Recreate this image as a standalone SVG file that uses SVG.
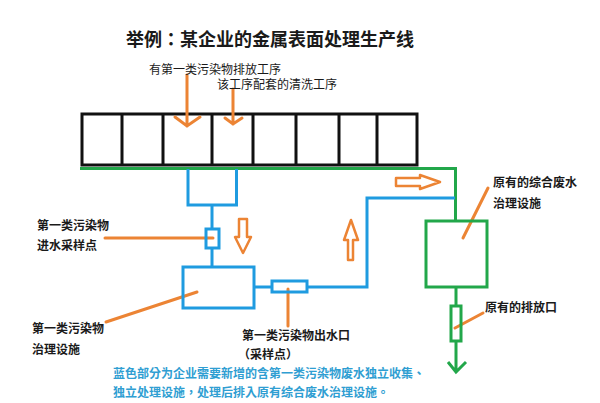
<svg xmlns="http://www.w3.org/2000/svg" width="600" height="403" viewBox="0 0 600 403">
<style>
text{font-family:"Noto Sans CJK SC","Noto Sans",sans-serif;fill:#1a1a1a;font-size:12px}
.title{font-size:18px;font-weight:bold;font-family:"Noto Sans CJK TC","Noto Sans CJK SC",sans-serif}
.b{font-weight:bold}
.blue-t{fill:#2f9ed2;font-weight:bold;font-family:"Noto Sans CJK TC","Noto Sans CJK SC",sans-serif}
.blk{fill:none;stroke:#111;stroke-width:3}
.blu{fill:none;stroke:#1f9be0;stroke-width:3}
.grn{fill:none;stroke:#22a74a;stroke-width:3}
.org{fill:none;stroke:#ec8434;stroke-width:3;stroke-linecap:round}
.hol{fill:#fff;stroke:#ec8434;stroke-width:2.5;stroke-linejoin:round}
</style>
<rect width="600" height="403" fill="#fff"/>
<text class="title" x="126" y="46">举例：某企业的金属表面处理生产线</text>

<g id="production-line">
<rect class="blk" x="82" y="114" width="335" height="51"/>
<path class="blk" d="M122 114V165M163 114V165M212 114V165M253 114V165M296 114V165M339 114V165M377 114V165"/>
</g>

<g id="connectors">
<path class="grn" d="M80 168.5H455.5V221"/>
<path class="blu" d="M188 169V205H236.5V169M212 205V229M212 248V267M254 287H272M307 287H367V198H455"/>
<path class="grn" d="M456 287V306M456 341V372M448 362L456 372L466 362"/>
<path class="org" d="M187 75V126M175 117L187 126L200 117"/>
<path class="org" d="M233 89V124M225 118L233 124L242 118"/>
<path class="org" d="M105 238H213"/>
<path class="org" d="M106 322L197 292"/>
<path class="org" d="M288 289V326"/>
<path class="org" d="M463 238L488 188"/>
<path class="org" d="M455 328L483 313"/>
</g>

<g id="flow-arrows">
<polygon class="hol" points="239,219 247,219 247,237 251,237 243,253 235,237 239,237"/>
<polygon class="hol" points="351,220 358,240 353,240 353,260 348,260 348,240 344,240"/>
<polygon class="hol" points="396,178 420,178 420,175 440,182 420,189 420,186 396,186"/>
</g>

<g id="intake-sample-point">
<rect class="blu" x="206" y="229" width="13" height="19"/>
<text class="b" x="37" y="229.5">第一类污染物</text>
<text class="b" x="37" y="249.5">进水采样点</text>
</g>

<g id="treatment-facility">
<rect class="blu" x="183" y="267" width="71" height="41"/>
<text class="b" x="32" y="332.5">第一类污染物</text>
<text class="b" x="32" y="353.5">治理设施</text>
</g>

<g id="outlet-sample-point">
<rect class="blu" x="272" y="281" width="35" height="11"/>
<text class="b" x="242" y="339.5">第一类污染物出水口</text>
<text class="b" x="238" y="358.5">（采样点）</text>
</g>

<g id="original-treatment">
<rect class="grn" x="426" y="221" width="61" height="66"/>
<text class="b" x="493" y="186.5">原有的综合废水</text>
<text class="b" x="493" y="207.5">治理设施</text>
</g>

<g id="original-outlet">
<rect class="grn" x="451" y="306" width="10" height="35"/>
<text class="b" x="485" y="311.5">原有的排放口</text>
</g>

<g id="top-labels">
<text x="149" y="73.5">有第一类污染物排放工序</text>
<text x="217" y="88.5">该工序配套的清洗工序</text>
</g>

<g id="note">
<text class="blue-t" x="113" y="377.5">蓝色部分为企业需要新增的含第一类污染物废水独立收集、</text>
<text class="blue-t" x="113" y="396.5">独立处理设施，处理后排入原有综合废水治理设施。</text>
</g>
</svg>
